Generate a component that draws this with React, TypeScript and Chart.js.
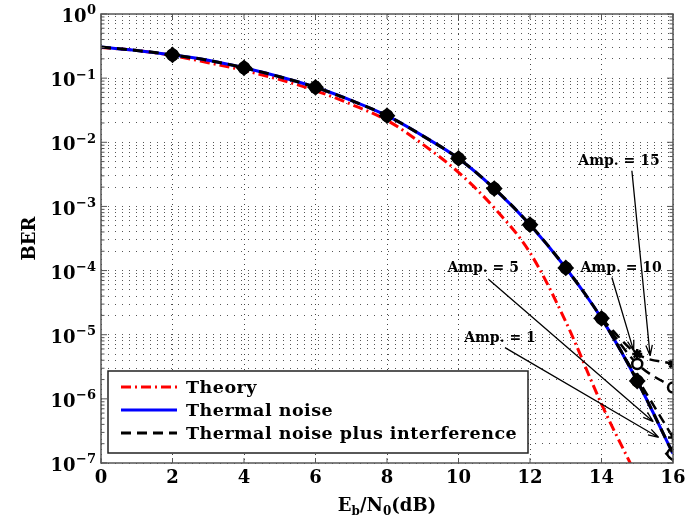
import React, { useEffect, useRef } from "react";
import { Chart, registerables } from "chart.js";
Chart.register(...registerables);

// ---- data ----
const ebn0 = [0, 1, 2, 3, 4, 5, 6, 7, 8, 9, 10, 11, 12, 13, 14, 15, 16];
const theory = [0.3, 0.27, 0.225, 0.174, 0.132, 0.095, 0.064, 0.039, 0.022, 0.0093, 0.0034, 0.00095, 0.00019, 0.000016, 0.00000083, 0.00000006, null];
const thermal = [0.305, 0.27, 0.23, 0.19, 0.145, 0.105, 0.072, 0.045, 0.026, 0.0126, 0.0056, 0.0019, 0.00052, 0.00011, 0.000018, 0.0000019, 0.00000014];
const interference = [0.305, 0.27, 0.23, 0.19, 0.145, 0.105, 0.072, 0.045, 0.026, 0.0126, 0.0056, 0.0019, 0.00052, 0.00011, 0.000018, 0.0000019, 0.00000014];
const ampX = [14, 15, 16];
const amp5 = [0.000018, 0.0000021, 0.00000025];
const amp10 = [0.000018, 0.0000035, 0.0000015];
const amp15 = [0.000018, 0.000005, 0.0000035];
const markerX = [2, 4, 6, 8, 10, 11, 12, 13, 14, 15, 16];
const xTicks = [0, 2, 4, 6, 8, 10, 12, 14, 16];
const yExponents = [0, -1, -2, -3, -4, -5, -6, -7];
const legendLabels = ["Theory", "Thermal noise", "Thermal noise plus interference"];
// annotations: label, text position (x, BER), arrow start (x, BER), arrow tip (x, BER)
const annLabels = ["Amp. = 15", "Amp. = 10", "Amp. = 5", "Amp. = 1"];
const annText = [[14.49, 5.0e-3], [14.55, 1.07e-4], [10.69, 1.07e-4], [11.16, 8.7e-6]];
const annStart = [[14.85, 3.6e-3], [14.29, 7.8e-5], [10.83, 7.4e-5], [11.3, 6.3e-6]];
const annTip = [[15.36, 4.7e-6], [14.9, 5.6e-6], [15.45, 4.4e-7], [15.6, 2.5e-7]];

const FONT = '"DejaVu Serif", serif';
const RED = "#ff0000";
const BLUE = "#0000ff";

const pts = (xs: number[], ys: (number | null)[]) => xs.map((x, i) => ({ x, y: ys[i] }));

const decor = {
  id: "decor",
  afterDraw(chart: any) {
    const ctx = chart.ctx;
    const { left, right, top, bottom } = chart.chartArea;
    const xs = chart.scales.x;
    const ys = chart.scales.y;
    ctx.save();
    // frame
    ctx.strokeStyle = "#555";
    ctx.lineWidth = 1.5;
    ctx.setLineDash([]);
    ctx.strokeRect(left, top, right - left, bottom - top);
    // inner ticks
    ctx.lineWidth = 1;
    ctx.strokeStyle = "#555";
    ctx.beginPath();
    xTicks.forEach((v) => {
      const px = xs.getPixelForValue(v);
      ctx.moveTo(px, bottom);
      ctx.lineTo(px, bottom - 5);
      ctx.moveTo(px, top);
      ctx.lineTo(px, top + 5);
    });
    yExponents.forEach((e) => {
      for (let d = 1; d <= 9; d++) {
        const v = d * Math.pow(10, e);
        if (v > 1.0001) continue;
        const py = ys.getPixelForValue(v);
        const len = d === 1 ? 6 : 3.5;
        ctx.moveTo(left, py);
        ctx.lineTo(left + len, py);
        ctx.moveTo(right, py);
        ctx.lineTo(right - len, py);
      }
    });
    ctx.stroke();

    // y tick labels
    ctx.fillStyle = "#000";
    yExponents.forEach((e) => {
      const py = ys.getPixelForValue(Math.pow(10, e));
      const expStr = e === 0 ? "0" : "\u2212" + Math.abs(e);
      ctx.font = `bold 13px ${FONT}`;
      const ew = ctx.measureText(expStr).width;
      ctx.textAlign = "right";
      ctx.textBaseline = "middle";
      ctx.fillText(expStr, 96, py - 3);
      ctx.font = `bold 18px ${FONT}`;
      ctx.fillText("10", 96 - ew - 0.5, py + 3.5);
    });
    // x tick labels
    ctx.font = `bold 18px ${FONT}`;
    ctx.textAlign = "center";
    ctx.textBaseline = "middle";
    xTicks.forEach((v) => {
      ctx.fillText(String(v), xs.getPixelForValue(v), 478);
    });
    // x title: E_b/N_0(dB)
    const parts: [string, boolean][] = [["E", false], ["b", true], ["/N", false], ["0", true], ["(dB)", false]];
    let total = 0;
    parts.forEach(([t, sub]) => {
      ctx.font = sub ? `bold 12px ${FONT}` : `bold 18px ${FONT}`;
      total += ctx.measureText(t).width;
    });
    let cx = (left + right) / 2 - total / 2;
    ctx.textAlign = "left";
    ctx.textBaseline = "alphabetic";
    parts.forEach(([t, sub]) => {
      ctx.font = sub ? `bold 12px ${FONT}` : `bold 18px ${FONT}`;
      ctx.fillText(t, cx, sub ? 515 : 511);
      cx += ctx.measureText(t).width;
    });
    // y title
    ctx.save();
    ctx.translate(30, (top + bottom) / 2);
    ctx.rotate(-Math.PI / 2);
    ctx.font = `bold 18px ${FONT}`;
    ctx.textAlign = "center";
    ctx.textBaseline = "middle";
    ctx.fillText("BER", 0, 0);
    ctx.restore();

    // annotations
    ctx.strokeStyle = "#000";
    ctx.fillStyle = "#000";
    ctx.lineWidth = 1.3;
    annLabels.forEach((lab, i) => {
      const tx = xs.getPixelForValue(annText[i][0]);
      const ty = ys.getPixelForValue(annText[i][1]);
      ctx.font = `bold 14px ${FONT}`;
      ctx.textAlign = "center";
      ctx.textBaseline = "middle";
      ctx.fillText(lab, tx, ty);
      const sx = xs.getPixelForValue(annStart[i][0]);
      const sy = ys.getPixelForValue(annStart[i][1]);
      const ex = xs.getPixelForValue(annTip[i][0]);
      const ey = ys.getPixelForValue(annTip[i][1]);
      ctx.beginPath();
      ctx.moveTo(sx, sy);
      ctx.lineTo(ex, ey);
      const ang = Math.atan2(ey - sy, ex - sx);
      const L = 11;
      const a = 0.3;
      ctx.moveTo(ex, ey);
      ctx.lineTo(ex - L * Math.cos(ang - a), ey - L * Math.sin(ang - a));
      ctx.moveTo(ex, ey);
      ctx.lineTo(ex - L * Math.cos(ang + a), ey - L * Math.sin(ang + a));
      ctx.stroke();
    });

    // legend
    const bx = 108, by = 371, bw = 420, bh = 82;
    ctx.fillStyle = "#fff";
    ctx.fillRect(bx, by, bw, bh);
    ctx.strokeStyle = "#222";
    ctx.lineWidth = 1.5;
    ctx.strokeRect(bx, by, bw, bh);
    const rows = [387, 410, 433];
    const styles = [
      { c: RED, d: [10, 4, 2, 4] },
      { c: BLUE, d: [] },
      { c: "#000", d: [10, 6] },
    ];
    legendLabels.forEach((lab, i) => {
      ctx.strokeStyle = styles[i].c;
      ctx.lineWidth = 3;
      ctx.setLineDash(styles[i].d);
      ctx.beginPath();
      ctx.moveTo(121, rows[i]);
      ctx.lineTo(177, rows[i]);
      ctx.stroke();
      ctx.setLineDash([]);
      ctx.fillStyle = "#000";
      ctx.font = `bold 17.5px ${FONT}`;
      ctx.letterSpacing = "0.5px";
      ctx.textAlign = "left";
      ctx.textBaseline = "middle";
      ctx.fillText(lab, 186, rows[i] + 1);
      ctx.letterSpacing = "0px";
    });
    ctx.restore();
  },
};

export default function App() {
  const ref = useRef<HTMLCanvasElement | null>(null);
  useEffect(() => {
    if (!ref.current) return;
    const markerData = markerX.map((x) => ({ x, y: thermal[x] }));
    const fillArr = markerX.map((x, i) => (i === markerX.length - 1 ? "rgba(0,0,0,0)" : "#000"));
    const chart = new Chart(ref.current, {
      type: "line",
      data: {
        datasets: [
          {
            label: "markers-circle",
            data: markerData,
            showLine: false,
            pointStyle: "circle",
            pointRadius: 5.5,
            pointBackgroundColor: fillArr,
            pointBorderColor: "#000",
            pointBorderWidth: 2,
          },
          {
            label: "markers-diamond",
            data: markerData,
            showLine: false,
            pointStyle: "rectRot",
            pointRadius: 7,
            pointBackgroundColor: fillArr,
            pointBorderColor: "#000",
            pointBorderWidth: 2,
          },
          {
            label: "Amp15",
            data: pts(ampX, amp15),
            borderColor: "#000",
            borderWidth: 2.5,
            borderDash: [10, 6],
            pointStyle: "star",
            pointRadius: (c: any) => (c.dataIndex === 0 ? 0 : 5),
            pointBorderColor: "#000",
            pointBorderWidth: 2.5,
            pointBackgroundColor: "#000",
          },
          {
            label: "Amp10",
            data: pts(ampX, amp10),
            borderColor: "#000",
            borderWidth: 2.5,
            borderDash: [10, 6],
            pointStyle: "circle",
            pointRadius: (c: any) => (c.dataIndex === 0 ? 0 : 5),
            pointBorderColor: "#000",
            pointBorderWidth: 2.5,
            pointBackgroundColor: "#fff",
          },
          {
            label: "Amp5",
            data: pts(ampX, amp5),
            borderColor: "#000",
            borderWidth: 2.5,
            borderDash: [10, 6],
            pointStyle: "cross",
            pointRadius: (c: any) => (c.dataIndex === 0 ? 0 : 5),
            pointBorderColor: "#000",
            pointBorderWidth: 2.5,
          },
          {
            label: "Thermal noise plus interference",
            data: pts(ebn0, interference),
            borderColor: "#000",
            borderWidth: 3,
            borderDash: [10, 6],
            pointRadius: 0,
          },
          {
            label: "Thermal noise",
            data: pts(ebn0, thermal),
            borderColor: BLUE,
            borderWidth: 3,
            pointRadius: 0,
          },
          {
            label: "Theory",
            data: pts(ebn0, theory),
            borderColor: RED,
            borderWidth: 3,
            borderDash: [10, 4, 2, 4],
            pointRadius: 0,
            spanGaps: false,
          },
        ],
      },
      options: {
        responsive: false,
        animation: false,
        events: [],
        layout: { padding: { left: 101, right: 21, top: 14, bottom: 59 } },
        plugins: { legend: { display: false }, tooltip: { enabled: false } },
        elements: { line: { tension: 0.35, cubicInterpolationMode: "monotone" } },
        scales: {
          x: {
            type: "linear",
            min: 0,
            max: 16,
            ticks: { display: false, stepSize: 2 },
            grid: { color: "#444", lineWidth: 1, drawTicks: false },
            border: { display: false, dash: [1, 4] },
            afterFit: (s: any) => {
              s.height = 0;
            },
          },
          y: {
            type: "logarithmic",
            min: 1e-7,
            max: 1,
            ticks: { display: false },
            grid: { color: "#555", lineWidth: 1, drawTicks: false },
            border: { display: false, dash: [1, 6] },
            afterBuildTicks: (s: any) => {
              const t: any[] = [];
              yExponents.forEach((e) => {
                for (let d = 1; d <= 9; d++) {
                  const v = d * Math.pow(10, e);
                  if (v <= 1.0001) t.push({ value: v, major: d === 1 });
                }
              });
              s.ticks = t;
            },
            afterFit: (s: any) => {
              s.width = 0;
            },
          },
        },
      },
      plugins: [decor],
    } as any);
    return () => chart.destroy();
  }, []);
  return (
    <div style={{ position: "fixed", left: 0, top: 0, width: 694, height: 522, background: "#fff" }}>
      <canvas ref={ref} width={694} height={522} style={{ width: 694, height: 522, display: "block" }} />
    </div>
  );
}
